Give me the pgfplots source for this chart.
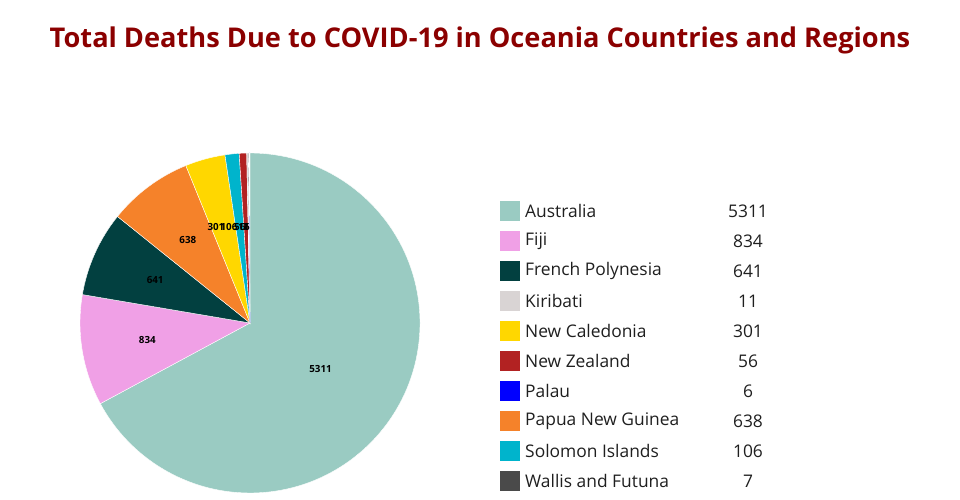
\documentclass[border=0pt]{standalone}
\usepackage{pgfplots}
\usepackage{pgfplotstable}
\pgfplotsset{compat=1.18}
\usepackage{fontspec}
\setmainfont{Open Sans}

\definecolor{cAus}{HTML}{9ACBC2}
\definecolor{cFij}{HTML}{F0A0E6}
\definecolor{cFrP}{HTML}{024040}
\definecolor{cKir}{HTML}{D9D4D4}
\definecolor{cNCa}{HTML}{FFD700}
\definecolor{cNZe}{HTML}{B22222}
\definecolor{cPal}{HTML}{0000FF}
\definecolor{cPNG}{HTML}{F5822A}
\definecolor{cSol}{HTML}{00B4CC}
\definecolor{cWal}{HTML}{4A4A4A}
\definecolor{titlered}{HTML}{8B0000}

% legend order (alphabetical); lr/da = label radius and angle shift inside the pie
\pgfplotstableread[col sep=comma]{
name,value,color,lr,da
Australia,5311,cAus,84,-2
Fiji,834,cFij,104,0
French Polynesia,641,cFrP,104,0
Kiribati,11,cKir,96,2.9
New Caledonia,301,cNCa,102,4.2
New Zealand,56,cNZe,96.5,3.7
Palau,6,cPal,96,1.7
Papua New Guinea,638,cPNG,104,0
Solomon Islands,106,cSol,98,6.3
Wallis and Futuna,7,cWal,96,2.1
}\deaths

% pie order: largest first, clockwise from the top
\pgfplotstablesort[sort key=value, sort cmp=float >]\piedata\deaths

\begin{document}
\begin{tikzpicture}
\useasboundingbox (0,0) rectangle (960pt,500pt);
\begin{axis}[
    at={(0,0)}, anchor=south west,
    width=960pt, height=500pt, scale only axis,
    xmin=0, xmax=960, ymin=0, ymax=500,
    hide axis, clip=false,
]
% title
\node[font=\bfseries\fontsize{27.2}{31}\selectfont, text=titlered]
    at (axis cs:480,460) {Total Deaths Due to COVID-19 in Oceania Countries and Regions};

% total
\pgfplotstablegetrowsof{\piedata}
\pgfmathtruncatemacro\nrows{\pgfplotsretval-1}
\def\total{0}
\pgfplotsforeachungrouped \i in {0,...,\nrows}{
  \pgfplotstablegetelem{\i}{value}\of\piedata
  \pgfmathsetmacro\total{\total+\pgfplotsretval}
}

% slices
\def\cur{90}
\pgfplotsforeachungrouped \i in {0,...,\nrows}{
  \pgfplotstablegetelem{\i}{value}\of\piedata \let\slv\pgfplotsretval
  \pgfplotstablegetelem{\i}{color}\of\piedata \let\slcol\pgfplotsretval
  \pgfmathsetmacro\nxt{\cur-360*(\slv/\total)}
  \edef\temp{\noexpand\fill[\slcol, draw=white, line width=0.4pt]
    (axis cs:250,177) -- ([shift={(\cur:170pt)}]axis cs:250,177)
    arc[start angle=\cur, end angle=\nxt, radius=170pt] -- cycle;}
  \temp
  \let\cur\nxt
}

% slice labels
\def\cur{90}
\pgfplotsforeachungrouped \i in {0,...,\nrows}{
  \pgfplotstablegetelem{\i}{value}\of\piedata \let\slv\pgfplotsretval
  \pgfplotstablegetelem{\i}{lr}\of\piedata \let\sllr\pgfplotsretval
  \pgfplotstablegetelem{\i}{da}\of\piedata \let\slda\pgfplotsretval
  \pgfmathsetmacro\nxt{\cur-360*(\slv/\total)}
  \pgfmathsetmacro\midang{(\cur+\nxt)/2+\slda}
  \edef\temp{\noexpand\node[font=\noexpand\bfseries\noexpand\fontsize{9.8}{11}\noexpand\selectfont, text=black, inner sep=0pt]
    at ([shift={(\midang:\sllr pt)}]axis cs:250,177) {\slv};}
  \temp
  \let\cur\nxt
}

% legend
\pgfplotsforeachungrouped \i in {0,...,\nrows}{
  \pgfplotstablegetelem{\i}{name}\of\deaths \let\lgname\pgfplotsretval
  \pgfplotstablegetelem{\i}{value}\of\deaths \let\slv\pgfplotsretval
  \pgfplotstablegetelem{\i}{color}\of\deaths \let\slcol\pgfplotsretval
  \pgfmathsetmacro\ly{289-30*\i}
  \edef\temp{%
    \noexpand\fill[\slcol] (axis cs:500,\ly-10) rectangle (axis cs:520,\ly+10);
    \noexpand\node[anchor=west, inner sep=0pt, font=\noexpand\fontsize{17.4}{20}\noexpand\selectfont, text=black!88]
      at (axis cs:525,\ly) {\lgname};
    \noexpand\node[inner sep=0pt, font=\noexpand\fontsize{17.4}{20}\noexpand\selectfont, text=black!88]
      at (axis cs:748,\ly) {\slv};}
  \temp
}
\end{axis}
\end{tikzpicture}
\end{document}
